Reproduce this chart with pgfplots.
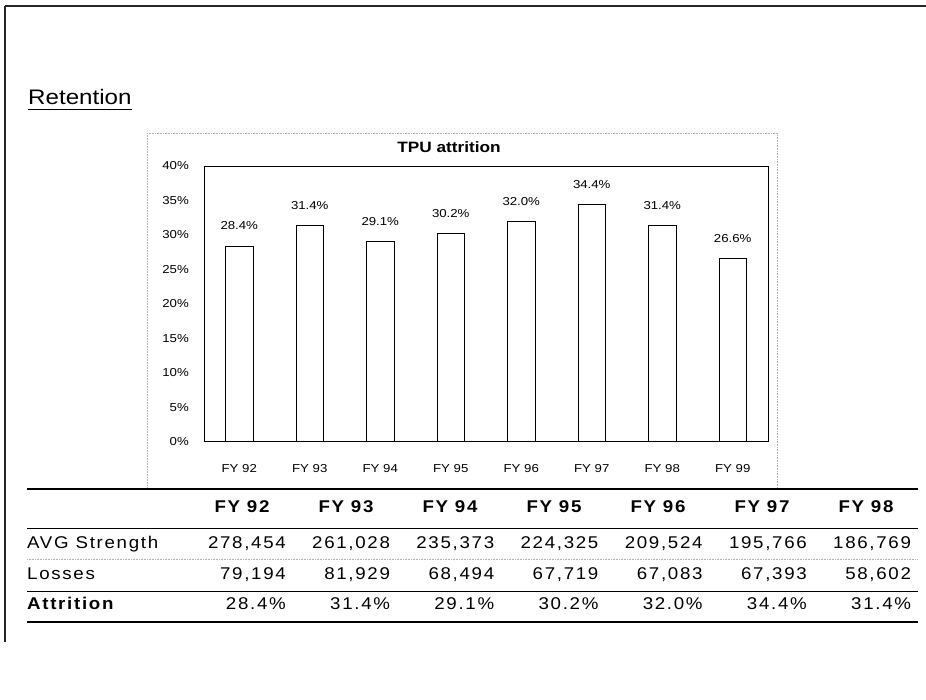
\documentclass[border=0pt]{standalone}
\usepackage{pgfplots}
\pgfplotsset{compat=1.18}
\usepackage{fontspec}
\setmainfont{Liberation Sans}
\newfontfamily\chf[FakeStretch=1.15]{Liberation Sans}
\newfontfamily\tbf[FakeStretch=1.1,LetterSpace=10]{Liberation Sans}

\begin{document}
\begin{tikzpicture}
\begin{scope}[x=1pt,y=-1pt]
\path[use as bounding box, fill=white] (0,0) rectangle (926,700);
\draw[line width=1.5pt, black!85] (5,6) -- (926,6);
\draw[line width=1.2pt, black!85] (5,6) -- (5,642);
\node[anchor=base west, inner sep=0pt, font=\chf\fontsize{21}{24}\selectfont] (ret) at (28,105) {Retention};
\draw[line width=1.8pt] ([yshift=-4.5pt]ret.base west) -- ([yshift=-4.5pt]ret.base east);
% outer chart frame (faint)
\draw[gray!60, densely dotted, line width=0.6pt] (147,133) -- (777,133) -- (777,489);
\draw[gray!60, densely dotted, line width=0.6pt] (147,133) -- (147,489);
% chart title
\node[font=\chf\bfseries\fontsize{15}{18}\selectfont] at (449,147) {TPU attrition};
\end{scope}

\begin{axis}[
  at={(204pt,-441.7pt)}, anchor=south west,
  width=564pt, height=275.7pt, scale only axis,
  ybar, bar width=27.5pt,
  xmin=-0.5, xmax=7.5, ymin=0, ymax=40,
  axis line style={black, line width=0.8pt},
  xtick={0,...,7},
  xticklabels={FY 92,FY 93,FY 94,FY 95,FY 96,FY 97,FY 98,FY 99},
  ytick={0,5,...,40},
  yticklabel={\pgfmathprintnumber{\tick}\%},
  /pgf/number format/assume math mode=true,
  tick style={draw=none}, major tick length=0pt,
  tick label style={font=\chf\fontsize{11.5}{13}\selectfont},
  xticklabel style={anchor=center, yshift=-27pt},
  yticklabel style={anchor=east, inner sep=0pt, xshift=-15pt},
  nodes near coords={\pgfmathprintnumber[fixed,fixed zerofill,precision=1]{\pgfplotspointmeta}\%},
  every node near coord/.append style={font=\chf\fontsize{11.5}{13}\selectfont, anchor=center, yshift=20pt, inner sep=0pt},
]
\addplot[fill=white, draw=black, line width=0.8pt] coordinates {
  (0,28.4) (1,31.4) (2,29.1) (3,30.2) (4,32.0) (5,34.4) (6,31.4) (7,26.6)
};
\end{axis}

\begin{scope}[x=1pt,y=-1pt]
\draw[line width=1.5pt] (27,489) -- (918,489);
\draw[line width=0.9pt] (27,528) -- (918,528);
\draw[gray!60, densely dotted, line width=0.6pt] (27,559) -- (918,559);
\draw[line width=0.9pt] (27,591) -- (918,591);
\draw[line width=2.4pt] (27,622) -- (918,622);
\foreach \t [count=\i from 0] in {FY 92,FY 93,FY 94,FY 95,FY 96,FY 97,FY 98}
  \node[anchor=base, inner sep=0pt, font=\tbf\bfseries\fontsize{17}{20}\selectfont] at (242+\i*104,512.5) {\t};
\node[anchor=base west, inner sep=0pt, font=\tbf\fontsize{17}{20}\selectfont] at (27,548.5) {AVG Strength};
\node[anchor=base west, inner sep=0pt, font=\tbf\fontsize{17}{20}\selectfont] at (27,579.5) {Losses};
\node[anchor=base west, inner sep=0pt, font=\tbf\bfseries\fontsize{17}{20}\selectfont] at (27,609.5) {Attrition};
\foreach \v [count=\i from 0] in {{278,454},{261,028},{235,373},{224,325},{209,524},{195,766},{186,769}}
  \node[anchor=base east, inner sep=0pt, font=\tbf\fontsize{17}{20}\selectfont] at (286+\i*104.2,548.5) {\v};
\foreach \v [count=\i from 0] in {{79,194},{81,929},{68,494},{67,719},{67,083},{67,393},{58,602}}
  \node[anchor=base east, inner sep=0pt, font=\tbf\fontsize{17}{20}\selectfont] at (286+\i*104.2,579.5) {\v};
\foreach \v [count=\i from 0] in {28.4\%,31.4\%,29.1\%,30.2\%,32.0\%,34.4\%,31.4\%}
  \node[anchor=base east, inner sep=0pt, font=\tbf\fontsize{17}{20}\selectfont] at (286+\i*104.2,609.5) {\v};
\end{scope}
\end{tikzpicture}
\end{document}
